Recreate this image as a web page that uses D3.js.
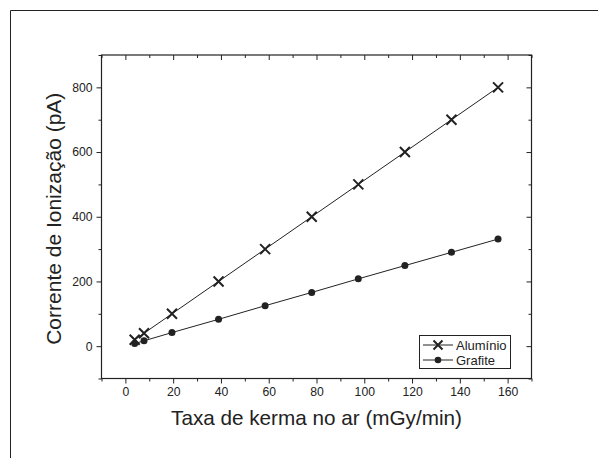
<!DOCTYPE html>
<html><head><meta charset="utf-8">
<script src="https://cdn.jsdelivr.net/npm/d3@7"></script>
<style>body{margin:0;background:#fff;} text{font-family:"Liberation Sans",Arial,sans-serif;fill:#222;}</style>
</head><body>
<svg id="chart" width="598" height="458"></svg>
<script>
const kermaRate = [3.9, 7.8, 19.5, 39, 58.5, 78, 97.5, 117, 136.5, 156];
const aluminio = [20, 40, 100, 200, 300, 400, 500, 600, 700, 800];
const grafite = [8, 16.5, 42, 83, 125, 166, 208, 249, 290, 331];
const xTicks = [0, 20, 40, 60, 80, 100, 120, 140, 160];
const yTicks = [0, 200, 400, 600, 800];
const seriesNames = ["Alumínio", "Grafite"];
const xTitle = "Taxa de kerma no ar (mGy/min)";
const yTitle = "Corrente de Ionização (pA)";

const svg = d3.select("#chart");
const L = 101.5, R = 531.5, T = 55, B = 378.5;
const x = d3.scaleLinear().domain([-10, 170]).range([L, R]);
const y = d3.scaleLinear().domain([-100, 900]).range([B, T]);
const ink = "#222";

// outer frame (top and left only)
svg.append("path").attr("d", "M10.5,458 V10.5 H598").attr("fill", "none").attr("stroke", ink).attr("stroke-width", 1);

const minorX = d3.range(-10, 171, 10).filter(v => !xTicks.includes(v));
const minorY = d3.range(-100, 901, 100).filter(v => !yTicks.includes(v));

function styleAxis(g){ g.select(".domain").remove(); g.selectAll("line").attr("stroke", ink); g.selectAll("text").attr("fill", ink).style("font-size","12.2px").style("font-family","'Liberation Sans',Arial,sans-serif"); }

// bottom
svg.append("g").attr("transform", `translate(0,${B})`).call(d3.axisBottom(x).tickValues(xTicks).tickSize(5).tickPadding(4).tickFormat(d3.format("d"))).call(styleAxis);
svg.append("g").attr("transform", `translate(0,${B})`).call(d3.axisBottom(x).tickValues(minorX).tickSize(3).tickFormat("")).call(styleAxis);
// top (inward)
svg.append("g").attr("transform", `translate(0,${T})`).call(d3.axisBottom(x).tickValues(xTicks).tickSize(5).tickFormat("")).call(styleAxis);
svg.append("g").attr("transform", `translate(0,${T})`).call(d3.axisBottom(x).tickValues(minorX).tickSize(3).tickFormat("")).call(styleAxis);
// left
svg.append("g").attr("transform", `translate(${L},0)`).call(d3.axisLeft(y).tickValues(yTicks).tickSize(5).tickPadding(4).tickFormat(d3.format("d"))).call(styleAxis);
svg.append("g").attr("transform", `translate(${L},0)`).call(d3.axisLeft(y).tickValues(minorY).tickSize(3).tickFormat("")).call(styleAxis);
// right (inward)
svg.append("g").attr("transform", `translate(${R},0)`).call(d3.axisLeft(y).tickValues(yTicks).tickSize(5).tickFormat("")).call(styleAxis);
svg.append("g").attr("transform", `translate(${R},0)`).call(d3.axisLeft(y).tickValues(minorY).tickSize(3).tickFormat("")).call(styleAxis);

// plot box
svg.append("rect").attr("x", L).attr("y", T).attr("width", R - L).attr("height", B - T).attr("fill", "none").attr("stroke", ink).attr("stroke-width", 1.2);

const line = d3.line().x(d => x(d[0])).y(d => y(d[1]));
const alData = kermaRate.map((k, i) => [k, aluminio[i]]);
const grData = kermaRate.map((k, i) => [k, grafite[i]]);

svg.append("path").datum(alData).attr("d", line).attr("fill", "none").attr("stroke", ink).attr("stroke-width", 1);
svg.append("path").datum(grData).attr("d", line).attr("fill", "none").attr("stroke", ink).attr("stroke-width", 1);

function cross(g, cx, cy, s){
  g.append("path").attr("d", `M${cx-s},${cy-s}L${cx+s},${cy+s}M${cx-s},${cy+s}L${cx+s},${cy-s}`).attr("stroke", ink).attr("stroke-width", 2).attr("fill","none");
}
const mk = svg.append("g");
alData.forEach(d => cross(mk, x(d[0]), y(d[1]), 5));
mk.selectAll("circle").data(grData).join("circle").attr("cx", d => x(d[0])).attr("cy", d => y(d[1])).attr("r", 3.5).attr("fill", ink);

// legend
const lg = svg.append("g");
lg.append("rect").attr("x", 419.5).attr("y", 335.5).attr("width", 91).attr("height", 33).attr("fill", "#fff").attr("stroke", ink).attr("stroke-width", 1);
const rows = [349.5, 364.5];
rows.forEach((ry, i) => {
  lg.append("line").attr("x1", 423).attr("x2", 453).attr("y1", ry - 4.5).attr("y2", ry - 4.5).attr("stroke", ink).attr("stroke-width", 1);
  if (i === 0) cross(lg, 438, ry - 4.5, 4.5);
  else lg.append("circle").attr("cx", 438).attr("cy", ry - 4.5).attr("r", 3.3).attr("fill", ink);
  lg.append("text").attr("x", 456).attr("y", ry).style("font-size", "13px").text(seriesNames[i]);
});

// titles
svg.append("text").attr("x", (L + R) / 2).attr("y", 425).attr("text-anchor", "middle").style("font-size", "20.7px").text(xTitle);
svg.append("text").attr("transform", `translate(61,${(T + B) / 2 + 2}) rotate(-90)`).attr("text-anchor", "middle").style("font-size", "21px").text(yTitle);
</script>
</body></html>
